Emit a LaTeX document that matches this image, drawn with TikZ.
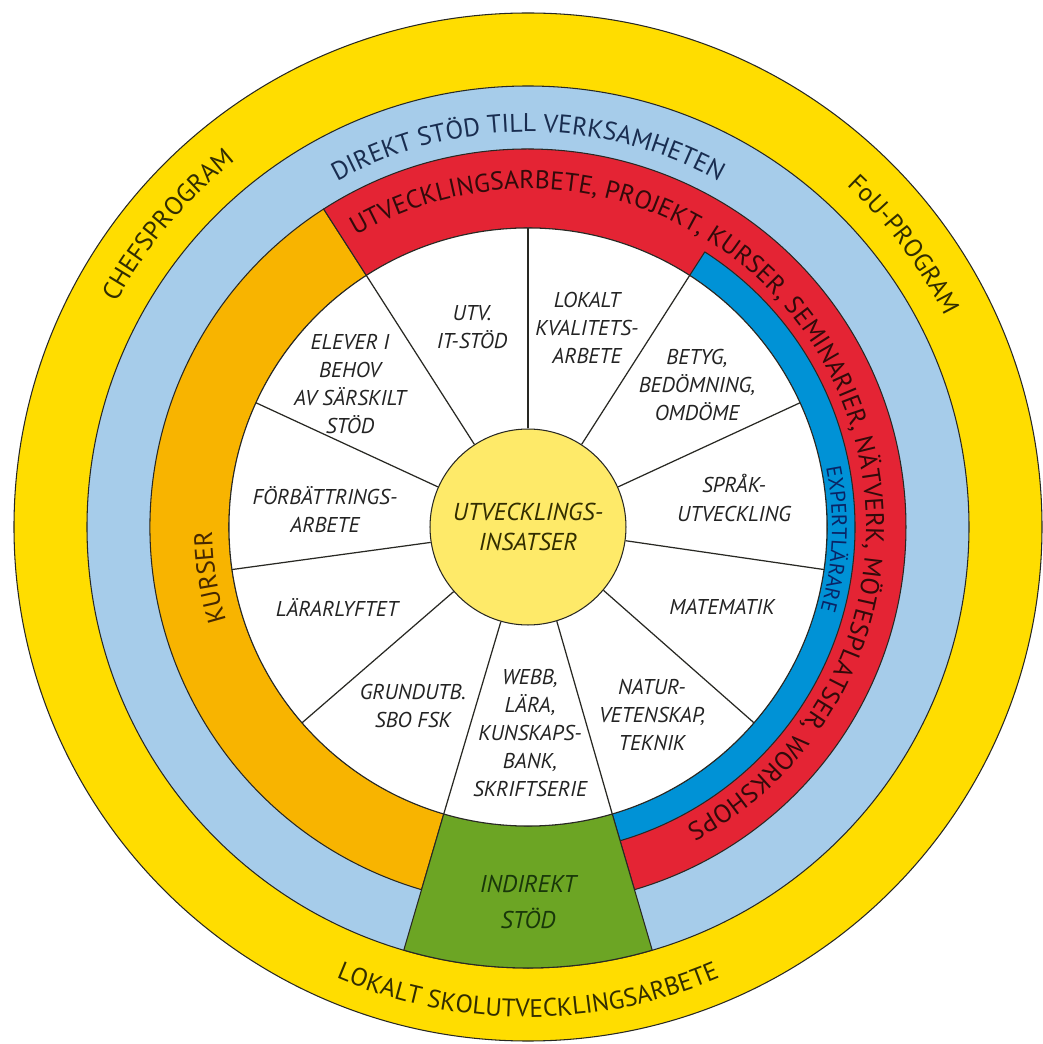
\documentclass[tikz,border=0pt]{standalone}
\usepackage{fontspec}
\setmainfont{PT Sans}
\usetikzlibrary{decorations.text}
\definecolor{ringyellow}{RGB}{255,221,0}
\definecolor{lightband}{RGB}{166,204,234}
\definecolor{redband}{RGB}{228,36,52}
\definecolor{orangeband}{RGB}{248,180,0}
\definecolor{blueband}{RGB}{0,146,214}
\definecolor{greenband}{RGB}{108,165,36}
\definecolor{hubyellow}{RGB}{254,234,105}
\definecolor{edge}{RGB}{40,40,35}
\definecolor{lbltext}{RGB}{35,35,35}
\definecolor{navytext}{RGB}{25,45,80}
\definecolor{redtext}{RGB}{50,10,10}
\definecolor{bluetext}{RGB}{10,35,100}
\definecolor{olivetext}{RGB}{50,45,0}
\definecolor{browntext}{RGB}{70,40,0}
\definecolor{greentext}{RGB}{25,55,10}
\begin{document}
\begin{tikzpicture}[x=0.02cm,y=0.02cm,line join=round,
  band/.style={draw=edge,line width=0.6pt},
  spoke/.style={draw=edge,line width=0.7pt},
  lbl/.style={font=\itshape\fontsize{12.2}{16}\selectfont,text=lbltext,align=center,inner sep=0pt},
  hubnode/.style={circle,fill=hubyellow,draw=edge,line width=0.6pt,minimum size=3.92cm,inner sep=0pt,
    font=\itshape\fontsize{13.9}{17}\selectfont,text=olivetext,align=center}]
\path[use as bounding box,fill=white] (-528,-517) rectangle (515,527);
% rings
\path[band,fill=ringyellow] (0,0) circle (514);
\path[band,fill=lightband] (0,0) circle (441);
\path[band,fill=orangeband] (122.73:299) arc[start angle=122.73,end angle=253.64,radius=299]
  -- (253.64:378) arc[start angle=253.64,end angle=122.73,radius=378] -- cycle;
\path[band,fill=redband] (-73.64:299) arc[start angle=-73.64,end angle=122.73,radius=299]
  -- (122.73:378) arc[start angle=122.73,end angle=-73.64,radius=378] -- cycle;
\path[band,fill=blueband] (-73.64:299) arc[start angle=-73.64,end angle=57.27,radius=299]
  -- (57.27:327) arc[start angle=57.27,end angle=-73.64,radius=327] -- cycle;
\path[band,fill=greenband] (-106.36:299) arc[start angle=-106.36,end angle=-73.64,radius=299]
  -- (-73.64:441) arc[start angle=-73.64,end angle=-106.36,radius=441] -- cycle;
\path[band,fill=white] (0,0) circle (299);
% hub and spokes
\node[hubnode] (hub) at (0,0) {UTVECKLINGS-\\INSATSER};
\foreach \k [evaluate=\k as \a using 90-\k*360/11] in {0,...,10}
  \draw[spoke] (hub.\a) -- (\a:299);
% sector labels
\node[lbl] (utv) at (-56,200) {UTV.\\IT-STÖD};
\node[lbl] (lokalt) at (59,199) {LOKALT\\KVALITETS-\\ARBETE};
\node[lbl] (betyg) at (169,142) {BETYG,\\BEDÖMNING,\\OMDÖME};
\node[lbl] (sprak) at (206,29) {SPRÅK-\\UTVECKLING};
\node[lbl] (matte) at (194,-80) {MATEMATIK};
\node[lbl] (natur) at (124,-188) {NATUR-\\VETENSKAP,\\TEKNIK};
\node[lbl] (webb) at (2,-206) {WEBB,\\LÄRA,\\KUNSKAPS-\\BANK,\\SKRIFTSERIE};
\node[lbl] (grund) at (-115,-179) {GRUNDUTB.\\SBO FSK};
\node[lbl] (lyft) at (-191,-80) {LÄRARLYFTET};
\node[lbl] (forb) at (-203,17) {FÖRBÄTTRINGS-\\ARBETE};
\node[lbl] (elever) at (-178,143) {ELEVER I\\BEHOV\\AV SÄRSKILT\\STÖD};
\node[font=\itshape\fontsize{13.8}{20.5}\selectfont,text=greentext,align=center,inner sep=0pt] (indirekt) at (0,-375) {INDIREKT\\STÖD};
% curved texts
\path[decorate,decoration={text along path,text align=center,
  text={|\fontsize{14.6}{17}\selectfont\color{navytext}|DIREKT STÖD TILL VERKSAMHETEN}}]
  (150:395) arc[start angle=150,end angle=30,radius=395];
\path[decorate,decoration={text along path,text align=center,
  text={|\fontsize{14.6}{17}\selectfont\color{redtext}|UTVECKLINGSARBETE, PROJEKT, KURSER, SEMINARIER, NÄTVERK, MÖTESPLATSER, WORKSHOPS}}]
  (149.25:338) arc[start angle=149.25,end angle=-90.75,radius=338];
\path[decorate,decoration={text along path,text align=center,
  text={|\fontsize{12}{14}\selectfont\color{bluetext}|EXPERTLÄRARE}}]
  (27.7:304) arc[start angle=27.7,end angle=-32.3,radius=304];
\path[decorate,decoration={text along path,text align=center,
  text={|\fontsize{14.6}{17}\selectfont\color{olivetext}|CHEFSPROGRAM}}]
  (170:469) arc[start angle=170,end angle=110,radius=469];
\path[decorate,decoration={text along path,text align=center,
  text={|\fontsize{14.4}{17}\selectfont\color{olivetext}|FoU-PROGRAM}}]
  (66.9:467) arc[start angle=66.9,end angle=6.9,radius=467];
\path[decorate,decoration={text along path,text align=center,
  text={|\fontsize{14.4}{17}\selectfont\color{olivetext}|LOKALT SKOLUTVECKLINGSARBETE}}]
  (-130:490) arc[start angle=-130,end angle=-50,radius=490];
\path[decorate,decoration={text along path,text align=center,
  text={|\fontsize{14.6}{17}\selectfont\color{browntext}|KURSER}}]
  (219:316) arc[start angle=219,end angle=159,radius=316];
\end{tikzpicture}
\end{document}
